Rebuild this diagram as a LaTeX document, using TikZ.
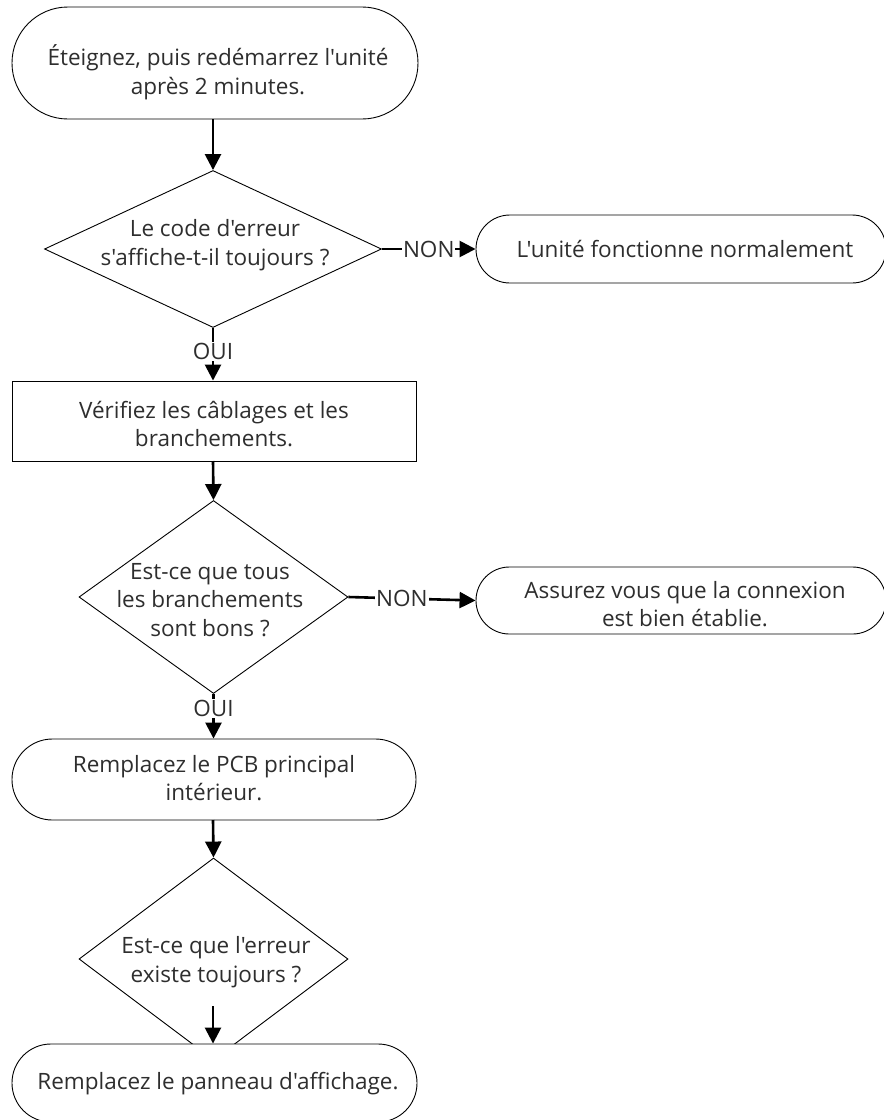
\documentclass[tikz,border=0pt]{standalone}
\usepackage{fontspec}
\setmainfont{Open Sans}[Ligatures=TeXOff]
\usetikzlibrary{shapes.geometric,arrows.meta}
\definecolor{txt}{HTML}{2E2E2E}
\begin{document}
\begin{tikzpicture}[x=1pt,y=-1pt,
  shapeline/.style={draw=black, line width=0.9pt, fill=white, inner sep=0pt},
  term/.style={shapeline, rectangle},
  box/.style={shapeline, rectangle},
  decision/.style={shapeline, diamond},
  lbl/.style={text=txt, align=center, inner sep=0pt, font=\fontsize{22.5}{28.5}\selectfont},
  flow/.style={line width=2.6pt, -{Triangle[width=16pt,length=16pt]}},
  yn/.style={text=txt, fill=white, inner sep=1pt, font=\fontsize{22.5}{24}\selectfont}
]
\useasboundingbox (0,0) rectangle (884,1120);
\clip (0,0) rectangle (884,1120);
% shapes
\node[term, rounded corners=55.9pt, minimum width=406pt, minimum height=112pt] (t1) at (215,63) {};
\node[decision, minimum width=337pt, minimum height=157pt] (d1) at (213,249) {};
\node[term, rounded corners=33.9pt, minimum width=410pt, minimum height=68pt] (t2) at (681,249) {};
\node[box, minimum width=404pt, minimum height=80pt] (r1) at (214,421) {};
\node[decision, minimum width=269pt, minimum height=193pt] (d2) at (213.5,597) {};
\node[term, rounded corners=33.4pt, minimum width=410pt, minimum height=67pt] (t3) at (681,600.5) {};
\node[term, rounded corners=40.4pt, minimum width=404pt, minimum height=81pt] (t4) at (214,779.5) {};
\node[decision, minimum width=269pt, minimum height=202pt] (d3) at (213.5,959) {};
\node[term, rounded corners=38.9pt, minimum width=405pt, minimum height=78pt] (t5) at (214.5,1083) {};
% texts
\node[lbl] (l1) at (218,72) {Éteignez, puis redémarrez l'unité\\après 2 minutes.};
\node[lbl] (l2) at (215,245) {Le code d'erreur\\s'affiche-t-il toujours ?};
\node[lbl] (l3) at (685,249) {L'unité fonctionne normalement};
\node[lbl] (l4) at (214,424) {Vérifiez les câblages et les\\branchements.};
\node[lbl] (l5) at (210,600) {Est-ce que tous\\les branchements\\sont bons ?};
\node[lbl] (l6) at (685,604) {Assurez vous que la connexion\\est bien établie.};
\node[lbl] (l7) at (214,778) {Remplacez le PCB principal\\intérieur.};
\node[lbl] (l8) at (216,962) {Est-ce que l'erreur\\existe toujours ?};
\node[lbl] (l9) at (218,1084) {Remplacez le panneau d'affichage.};
% connectors
\coordinate (c1) at (213,119);
\coordinate (c2) at (213,461);
\coordinate (c3) at (213,820);
\coordinate (c4) at (213,1006);
\draw[flow] (c1) -- (d1.north);
\draw[flow] (d1.east) -- node[yn, pos=0.5] {NON} (t2.west);
\draw[flow] (d1.south) -- node[yn, pos=0.45] {OUI} (r1.north -| d1.south);
\draw[flow] (c2) -- (d2.north);
\draw[flow] (d2.east) -- node[yn, pos=0.42] {NON} (t3.west);
\draw[flow] (d2.south) -- node[yn, pos=0.33] {OUI} (t4.north -| d2.south);
\draw[flow] (c3) -- (d3.north);
\draw[flow] (c4) -- (t5.north -| c4);
\end{tikzpicture}
\end{document}
